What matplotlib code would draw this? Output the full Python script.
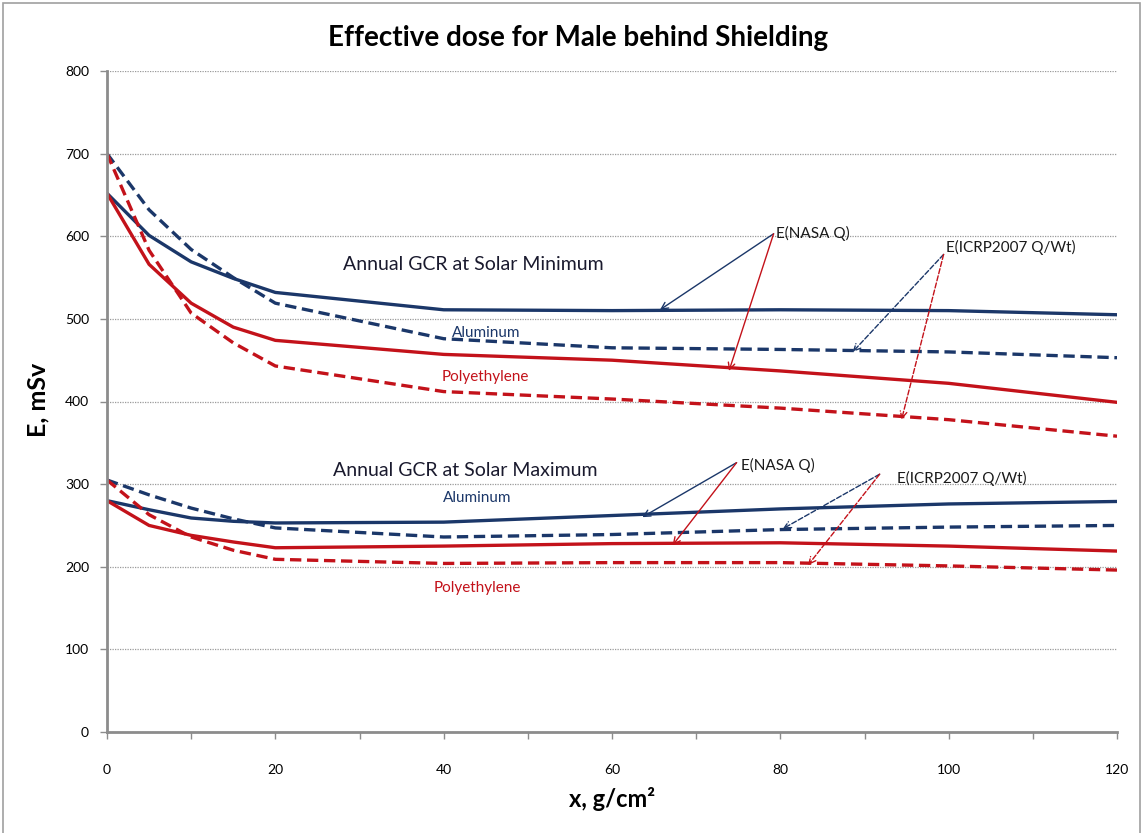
import matplotlib
matplotlib.use("Agg")
import matplotlib.pyplot as plt
from matplotlib.patches import Rectangle
from matplotlib.ticker import MultipleLocator

plt.rcParams['font.family'] = ['Lato', 'DejaVu Sans']

# Shielding depth, g/cm^2
depth = [0, 5, 10, 15, 20, 40, 60, 80, 100, 120]

# Annual GCR at solar minimum, mSv
min_al_nasa = [652, 601, 569, 549, 532, 511, 510, 511, 510, 505]
min_al_icrp = [700, 632, 584, 550, 519, 476, 465, 463, 460, 453]
min_pe_nasa = [652, 566, 519, 490, 474, 457, 450, 437, 422, 399]
min_pe_icrp = [700, 583, 507, 471, 443, 412, 403, 392, 378, 358]

# Annual GCR at solar maximum, mSv
max_al_nasa = [280, 269, 259, 255, 253, 254, 262, 270, 276, 279]
max_al_icrp = [305, 287, 271, 258, 247, 236, 239, 245, 248, 250]
max_pe_nasa = [280, 250, 238, 230, 223, 225, 228, 229, 225, 219]
max_pe_icrp = [305, 263, 236, 220, 209, 204, 205, 205, 201, 196]

NAVY = '#1b3769'
RED = '#c3121a'
GRID = '#9a9a9a'

fig = plt.figure(figsize=(11.43, 8.33), dpi=100)
ax = fig.add_axes([107 / 1143, 101 / 833, 1010 / 1143, 661 / 833])

# outer chart frame
fig.patches.append(Rectangle((0.003, -0.01), 0.994, 1.006, transform=fig.transFigure,
                             fill=False, edgecolor='#a0a0a0', linewidth=1.2))

lw = 2.4
dash = (0, (3.4, 1.7))
ax.plot(depth, min_al_nasa, color=NAVY, lw=lw, solid_capstyle='round')
ax.plot(depth, min_al_icrp, color=NAVY, lw=lw, linestyle=dash)
ax.plot(depth, min_pe_nasa, color=RED, lw=lw, solid_capstyle='round')
ax.plot(depth, min_pe_icrp, color=RED, lw=lw, linestyle=dash)
ax.plot(depth, max_al_nasa, color=NAVY, lw=lw, solid_capstyle='round')
ax.plot(depth, max_al_icrp, color=NAVY, lw=lw, linestyle=dash)
ax.plot(depth, max_pe_nasa, color=RED, lw=lw, solid_capstyle='round')
ax.plot(depth, max_pe_icrp, color=RED, lw=lw, linestyle=dash)

ax.set_xlim(0, 120)
ax.set_ylim(0, 800)
ax.xaxis.set_major_locator(MultipleLocator(20))
ax.xaxis.set_minor_locator(MultipleLocator(10))
ax.yaxis.set_major_locator(MultipleLocator(100))
ax.grid(axis='y', color=GRID, linestyle=(0, (1, 1)), linewidth=0.9)
ax.set_axisbelow(True)

for s in ('top', 'right'):
    ax.spines[s].set_visible(False)
for s in ('left', 'bottom'):
    ax.spines[s].set_color('#8c8c8c')
    ax.spines[s].set_linewidth(2.0)

ax.tick_params(axis='x', which='both', direction='out', length=5, width=1,
               color='#8c8c8c', pad=18, labelsize=10)
ax.tick_params(axis='y', which='major', direction='out', length=5, width=1,
               color='#8c8c8c', pad=8, labelsize=10)

fig.text(578 / 1143, 1 - 38 / 833, 'Effective dose for Male behind Shielding',
         fontsize=20, fontweight='bold', ha='center', va='center')
ax.set_xlabel('x, g/cm²', fontsize=17, fontweight='bold', labelpad=8)
ax.set_ylabel('E, mSv', fontsize=18, fontweight='bold', va='center')
ax.yaxis.set_label_coords(-0.068, 0.502)

# Text labels
ax.text(28, 566, 'Annual GCR at Solar Minimum', fontsize=14, color='#1a1a2e',
        va='center', ha='left')
ax.text(45, 483, 'Aluminum', fontsize=11, color=NAVY, va='center', ha='center')
ax.text(45, 430, 'Polyethylene', fontsize=11, color=RED, va='center', ha='center')
ax.text(26.8, 316, 'Annual GCR at Solar Maximum', fontsize=14, color='#1a1a2e',
        va='center', ha='left')
ax.text(44, 283, 'Aluminum', fontsize=11, color=NAVY, va='center', ha='center')
ax.text(44, 174, 'Polyethylene', fontsize=11, color=RED, va='center', ha='center')

# Pointer labels with arrows
def pointer(label, start, text_xy, targets):
    ax.text(text_xy[0], text_xy[1], label, fontsize=11, color='#1a1a1a',
            va='center', ha='left')
    for (tx, ty), col, ls in targets:
        ax.annotate('', xy=(tx, ty), xytext=start,
                    arrowprops=dict(arrowstyle='->', color=col, lw=1.0,
                                    linestyle=ls, shrinkA=0, shrinkB=0,
                                    mutation_scale=12))

pointer('E(NASA Q)', (79.2, 603), (79.5, 603),
        [((65.7, 511), NAVY, '-'), ((73.9, 437), RED, '-')])
pointer('E(ICRP2007 Q/Wt)', (99.4, 578), (99.7, 586),
        [((88.6, 460), NAVY, '--'), ((94.4, 378), RED, '--')])
pointer('E(NASA Q)', (74.8, 326), (75.3, 323),
        [((63.6, 260), NAVY, '-'), ((67.2, 226), RED, '-')])
pointer('E(ICRP2007 Q/Wt)', (91.8, 312), (93.9, 307),
        [((80.3, 246), NAVY, '--'), ((83.3, 202), RED, '--')])

fig.savefig('out.png', dpi=100)
